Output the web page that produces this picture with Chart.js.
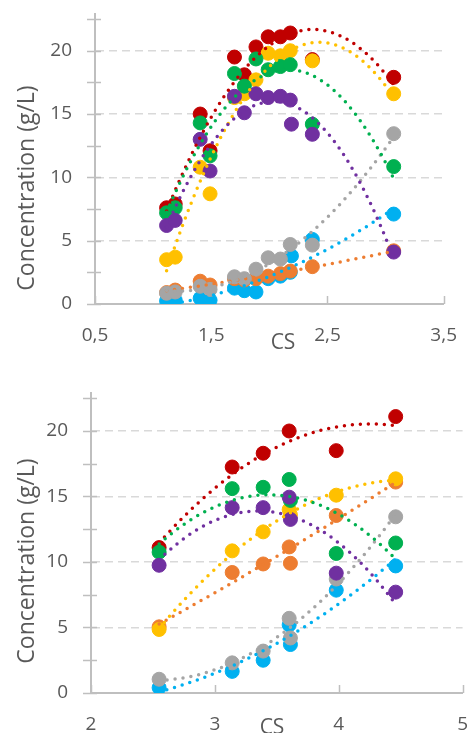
<!DOCTYPE html>
<html>
<head>
<meta charset="utf-8">
<script src="https://cdn.jsdelivr.net/npm/chart.js@4.4.0/dist/chart.umd.min.js"></script>
<style>
  html, body { margin: 0; padding: 0; background: #fff; overflow: hidden; }
  body { width: 469px; height: 733px; position: relative; }
  canvas { position: absolute; left: 0; }
  #topChart { top: 0; }
  #bottomChart { top: 380px; }
</style>
</head>
<body>
<canvas id="topChart" width="469" height="360"></canvas>
<canvas id="bottomChart" width="480" height="370"></canvas>
<script>
// upper panel: CS values (one extra column for a replicate near 2.18)
const csTop = [1.116, 1.19, 1.405, 1.49, 1.70, 1.785, 1.885, 1.99, 2.095, 2.18, 2.19, 2.37, 3.07];
const redTop    = [7.6, 7.9, 15.0, 12.1, 19.5, 18.1, 20.3, 21.1, 21.1, 21.4, null, 19.3, 17.9];
const yellowTop = [3.5, 3.7, 10.8, 8.7, 16.3, 16.6, 17.7, 19.8, 19.6, 20.0, null, 19.2, 16.6];
const greenTop  = [7.2, 7.6, 14.3, 11.7, 18.2, 17.2, 19.35, 18.5, 18.75, 18.9, null, 14.2, 10.85];
const purpleTop = [6.2, 6.6, 13.0, 10.5, 16.4, 15.1, 16.6, 16.3, 16.4, 16.1, 14.2, 13.4, 4.1];
const grayTop   = [0.85, 0.95, 1.4, 1.15, 2.15, 2.0, 2.75, 3.65, 3.55, 4.7, null, 4.65, 13.45];
const blueTop   = [0.25, 0.3, 0.45, 0.3, 1.25, 1.05, 0.95, 2.0, 2.2, 2.5, 3.8, 5.1, 7.1];
const orangeTop = [0.9, 1.1, 1.8, 1.5, 2.0, 1.9, 2.0, 2.2, 2.4, 2.6, null, 2.95, 4.2];

// lower panel: CS values (3.60 measured twice)
const csBottom = [2.55, 3.14, 3.39, 3.60, 3.61, 3.98, 4.46];
const redBottom    = [11.1, 17.25, 18.3, 20.0, null, 18.5, 21.1];
const yellowBottom = [4.85, 10.85, 12.3, 14.0, 13.6, 15.1, 16.35];
const greenBottom  = [10.75, 15.6, 15.7, 16.3, 14.7, 10.65, 11.45];
const purpleBottom = [9.75, 14.15, 14.15, 14.95, 13.25, 9.15, 7.7];
const grayBottom   = [1.05, 2.3, 3.2, 5.7, 4.2, 8.7, 13.45];
const blueBottom   = [0.4, 1.65, 2.5, 5.2, 3.7, 7.85, 9.7];
const orangeBottom = [5.05, 9.2, 9.85, 11.15, 9.9, 13.55, 16.1];

const yTicks = [0, 5, 10, 15, 20];

const textColor = '#595959';
const axisColor = '#bfbfbf';
const gridColor = '#d9d9d9';
const FONT = '"Open Sans", "Noto Sans", sans-serif';

// least-squares 2nd order polynomial (spreadsheet-style trendline)
function quadFit(pts) {
  const S = [0, 0, 0, 0, 0], T = [0, 0, 0];
  pts.forEach(p => {
    let xp = 1;
    for (let k = 0; k < 5; k++) {
      S[k] += xp;
      if (k < 3) T[k] += xp * p.y;
      xp *= p.x;
    }
  });
  const A = [[S[0], S[1], S[2], T[0]], [S[1], S[2], S[3], T[1]], [S[2], S[3], S[4], T[2]]];
  for (let i = 0; i < 3; i++) {
    for (let j = i + 1; j < 3; j++) {
      const f = A[j][i] / A[i][i];
      for (let k = i; k < 4; k++) A[j][k] -= f * A[i][k];
    }
  }
  const c = [0, 0, 0];
  for (let i = 2; i >= 0; i--) {
    let s = A[i][3];
    for (let k = i + 1; k < 3; k++) s -= A[i][k] * c[k];
    c[i] = s / A[i][i];
  }
  return c;
}

function trendPoints(pts) {
  const c = quadFit(pts);
  const xs = pts.map(p => p.x);
  const lo = Math.min(...xs), hi = Math.max(...xs);
  const out = [];
  for (let i = 0; i <= 80; i++) {
    const x = lo + (hi - lo) * i / 80;
    out.push({ x, y: c[0] + c[1] * x + c[2] * x * x });
  }
  return out;
}

// series listed top-most first; trendlines sit above every marker
function buildDatasets(xs, series) {
  const sets = [];
  series.forEach((s, idx) => {
    const pts = [];
    xs.forEach((x, i) => { if (s.values[i] != null) pts.push({ x, y: s.values[i] }); });
    sets.push({
      data: pts,
      order: idx + 1,
      backgroundColor: s.color,
      borderColor: s.color,
      pointRadius: 7,
      pointBorderWidth: 1,
      pointHoverRadius: 7,
      showLine: false
    });
    sets.push({
      data: trendPoints(pts),
      order: 0,
      showLine: true,
      pointRadius: 0,
      borderColor: s.color,
      borderWidth: 3.5,
      borderDash: [0, 8],
      borderCapStyle: 'round',
      fill: false
    });
  });
  return sets;
}

const axisDecor = {
  id: 'axisDecor',
  beforeDatasetsDraw(chart, args, opts) {
    const { ctx, scales: { x, y } } = chart;
    ctx.save();
    ctx.strokeStyle = axisColor;
    ctx.lineWidth = 1.5;
    ctx.beginPath();
    for (let v = 0; v <= y.max; v += 2.5) {
      const py = Math.round(y.getPixelForValue(v)) + 0.5;
      ctx.moveTo(x.left - 8, py);
      ctx.lineTo(x.left + 6, py);
    }
    x.ticks.forEach(t => {
      const px = Math.round(x.getPixelForValue(t.value)) + 0.5;
      ctx.moveTo(px, y.bottom);
      ctx.lineTo(px, y.bottom - 8);
    });
    ctx.stroke();
    ctx.restore();
  },
  afterDraw(chart, args, opts) {
    const { ctx } = chart;
    ctx.save();
    ctx.fillStyle = textColor;
    ctx.textAlign = 'center';
    ctx.textBaseline = 'middle';
    ctx.font = '23px ' + FONT;
    ctx.translate(opts.yTitle.x, opts.yTitle.y);
    ctx.rotate(-Math.PI / 2);
    ctx.fillText('Concentration (g/L)', 0, 0);
    ctx.restore();
    ctx.save();
    ctx.fillStyle = textColor;
    ctx.textAlign = 'center';
    ctx.textBaseline = 'middle';
    ctx.font = '21px ' + FONT;
    ctx.fillText('CS', opts.xTitle.x, opts.xTitle.y);
    ctx.restore();
  }
};

function makeChart(id, cfg) {
  return new Chart(document.getElementById(id), {
    type: 'scatter',
    data: { datasets: buildDatasets(cfg.xs, cfg.series) },
    options: {
      responsive: false,
      animation: false,
      devicePixelRatio: 1,
      layout: { padding: cfg.padding },
      plugins: {
        legend: { display: false },
        tooltip: { enabled: false },
        axisDecor: { yTitle: cfg.yTitle, xTitle: cfg.xTitle }
      },
      scales: {
        x: {
          type: 'linear',
          min: cfg.xMin,
          max: cfg.xMax,
          afterFit: s => { s.height = cfg.xAxisHeight; },
          afterBuildTicks: s => { s.ticks = cfg.xTicks.map(v => ({ value: v })); },
          ticks: {
            padding: 12,
            color: textColor,
            font: { family: FONT, size: 19 },
            callback: cfg.xLabel
          },
          grid: { display: false },
          border: { color: axisColor, width: 2 }
        },
        y: {
          min: 0,
          max: 22.9,
          afterFit: s => {
            s.width = cfg.yAxisWidth;
            s.paddingTop = 0;
            s.paddingBottom = 0;
          },
          afterBuildTicks: s => { s.ticks = yTicks.map(v => ({ value: v })); },
          ticks: {
            padding: 23,
            color: textColor,
            font: { family: FONT, size: 19 }
          },
          grid: {
            drawTicks: false,
            lineWidth: 1.5,
            color: c => (c.tick && c.tick.value === 0) ? 'rgba(0,0,0,0)' : gridColor
          },
          border: { color: axisColor, width: 2, dash: [8, 5] }
        }
      }
    },
    plugins: [axisDecor]
  });
}

makeChart('topChart', {
  xs: csTop,
  series: [
    { color: '#7030a0', values: purpleTop },
    { color: '#00b050', values: greenTop },
    { color: '#ffc000', values: yellowTop },
    { color: '#c00000', values: redTop },
    { color: '#a5a5a5', values: grayTop },
    { color: '#ed7d31', values: orangeTop },
    { color: '#00b0f0', values: blueTop }
  ],
  xMin: 0.5, xMax: 3.5,
  xTicks: [0.5, 1.5, 2.5, 3.5],
  xLabel: v => v.toFixed(1).replace('.', ','),
  padding: { top: 14, right: 17, left: 0, bottom: 0 },
  xAxisHeight: 56,
  yAxisWidth: 95,
  yTitle: { x: 27, y: 188 },
  xTitle: { x: 283, y: 343 }
});

makeChart('bottomChart', {
  xs: csBottom,
  series: [
    { color: '#7030a0', values: purpleBottom },
    { color: '#00b050', values: greenBottom },
    { color: '#ffc000', values: yellowBottom },
    { color: '#c00000', values: redBottom },
    { color: '#a5a5a5', values: grayBottom },
    { color: '#ed7d31', values: orangeBottom },
    { color: '#00b0f0', values: blueBottom }
  ],
  xMin: 2, xMax: 5,
  xTicks: [2, 3, 4, 5],
  xLabel: v => String(v),
  padding: { top: 13, right: 15, left: 0, bottom: 0 },
  xAxisHeight: 57,
  yAxisWidth: 91,
  yTitle: { x: 27, y: 181 },
  xTitle: { x: 272, y: 348 }
});
</script>
</body>
</html>
